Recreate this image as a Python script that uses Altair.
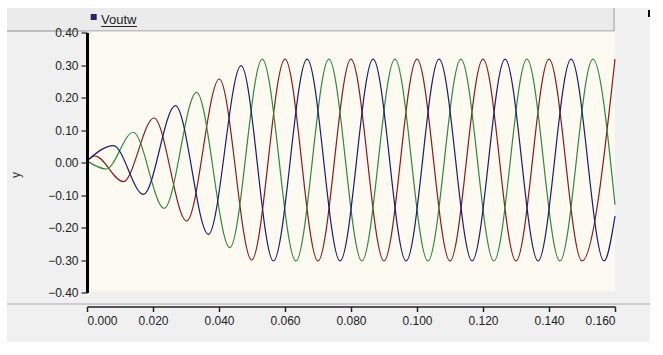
import altair as alt
import pandas as pd

# Extrema of each phase (time in s, value)
red_t = [0.0, 0.0024, 0.0110, 0.0203, 0.0302, 0.0401, 0.0499, 0.0600, 0.0700, 0.0800,
         0.0900, 0.1000, 0.1100, 0.1200, 0.1300, 0.1400, 0.1500, 0.1600]
red_v = [0.005, 0.020, -0.059, 0.137, -0.180, 0.257, -0.300, 0.318, -0.303, 0.318,
         -0.303, 0.318, -0.303, 0.318, -0.303, 0.318, -0.303, 0.318]

blue_t = [0.0, 0.0080, 0.0171, 0.0268, 0.0368, 0.0467, 0.0565, 0.0667, 0.0767, 0.0867,
          0.0967, 0.1067, 0.1167, 0.1267, 0.1367, 0.1467, 0.1567, 0.1600]
blue_v = [0.005, 0.052, -0.098, 0.175, -0.221, 0.298, -0.303, 0.318, -0.303, 0.318,
          -0.303, 0.318, -0.303, 0.318, -0.303, 0.318, -0.303, -0.165]

green_t = [0.0, 0.0058, 0.0140, 0.0234, 0.0332, 0.0433, 0.0531, 0.0633, 0.0733, 0.0833,
           0.0933, 0.1033, 0.1133, 0.1233, 0.1333, 0.1433, 0.1533, 0.1600]
green_v = [0.005, -0.020, 0.093, -0.141, 0.216, -0.262, 0.318, -0.303, 0.318, -0.303,
           0.318, -0.303, 0.318, -0.303, 0.318, -0.303, 0.318, -0.130]

phases = ["red", "green", "blue"]
phase_colors = ["#8a1c1c", "#2f8a3c", "#1c1c78"]
x_ticks = [0.0, 0.02, 0.04, 0.06, 0.08, 0.10, 0.12, 0.14, 0.16]
y_ticks = [-0.4, -0.3, -0.2, -0.1, 0.0, 0.1, 0.2, 0.3, 0.4]
legend_label = ["Voutw"]

rows = []
for name, ts, vs in [("red", red_t, red_v), ("green", green_t, green_v), ("blue", blue_t, blue_v)]:
    for t, v in zip(ts, vs):
        rows.append({"phase": name, "t": t, "v": v})
df = pd.DataFrame(rows)

FONT = "Liberation Sans"
one = alt.Data(values=[{}])

panel = alt.Chart(one).mark_rect(fill="#f0f0f0").encode(
    x=alt.value(-80), x2=alt.value(563), y=alt.value(-24.5), y2=alt.value(309.5))
band = alt.Chart(one).mark_rect(fill="#ebebeb").encode(
    x=alt.value(-80), x2=alt.value(527), y=alt.value(-24.5), y2=alt.value(-1.5))
band_bottom = alt.Chart(one).mark_rule(color="#8e8e8e", strokeWidth=1).encode(
    x=alt.value(-80), x2=alt.value(527), y=alt.value(-1.5))
band_right = alt.Chart(one).mark_rule(color="#9a9a9a", strokeWidth=1).encode(
    x=alt.value(527), y=alt.value(-24.5), y2=alt.value(-1.5))
cream = alt.Chart(one).mark_rect(fill="#fdfaf1").encode(
    x=alt.value(0), x2=alt.value(528), y=alt.value(-1), y2=alt.value(258.5))
sep = alt.Chart(one).mark_rule(color="#a8a8a8", strokeWidth=1).encode(
    x=alt.value(-80), x2=alt.value(563), y=alt.value(271.5))
tick_mark = alt.Chart(one).mark_rule(color="#000000", strokeWidth=2).encode(
    x=alt.value(562), y=alt.value(-22.5), y2=alt.value(-15.5))

lines = alt.Chart(df).mark_line(interpolate="monotone", strokeWidth=1.2).encode(
    x=alt.X("t:Q", scale=alt.Scale(domain=[0, 0.16], nice=False),
            axis=alt.Axis(values=x_ticks, format=".3f", title=None, offset=14,
                          domainColor="#222222", domainWidth=1.5, tickColor="#222222",
                          tickSize=5, tickWidth=1.5, labelPadding=4, labelFontSize=12,
                          labelFont=FONT, labelColor="#222222", grid=False, zindex=1)),
    y=alt.Y("v:Q", scale=alt.Scale(domain=[-0.4, 0.4], nice=False),
            axis=alt.Axis(values=y_ticks, format=".2f", title="y", grid=False,
                          domainColor="#000000", domainWidth=3, tickColor="#222222",
                          tickSize=6, tickWidth=1.2, labelPadding=3, labelFontSize=12,
                          labelFont=FONT, labelColor="#222222", titleFont=FONT,
                          titleFontSize=12, titleFontWeight="normal", titleColor="#333333",
                          titleX=-72, titleY=142, titleAngle=-90, titleAlign="center",
                          titleBaseline="middle", zindex=1)),
    color=alt.Color("phase:N", scale=alt.Scale(domain=phases, range=phase_colors), legend=None),
    order=alt.Order("t:Q"),
)

leg_df = pd.DataFrame({"label": legend_label})
leg_sq = alt.Chart(leg_df).mark_rect(fill="#23236e").encode(
    x=alt.value(3.7), x2=alt.value(9.7), y=alt.value(-18.5), y2=alt.value(-12.5))
leg_txt = alt.Chart(leg_df).mark_text(align="left", baseline="alphabetic", font=FONT,
                                      fontSize=13, color="#222222").encode(
    x=alt.value(14), y=alt.value(-8.5), text="label:N")
leg_ul = alt.Chart(one).mark_rule(color="#222222", strokeWidth=1).encode(
    x=alt.value(14), x2=alt.value(50), y=alt.value(-6))

chart = alt.layer(
    panel, band, band_bottom, band_right, cream, sep, tick_mark, lines, leg_sq, leg_txt, leg_ul
).properties(
    width=528, height=260,
    autosize=alt.AutoSizeParams(type="none"),
    padding={"left": 87, "top": 32.5, "right": 48, "bottom": 62.5},
    background="#ffffff",
).configure_view(stroke=None)

chart.save("out.html", embed_options={"renderer": "svg", "actions": False})
